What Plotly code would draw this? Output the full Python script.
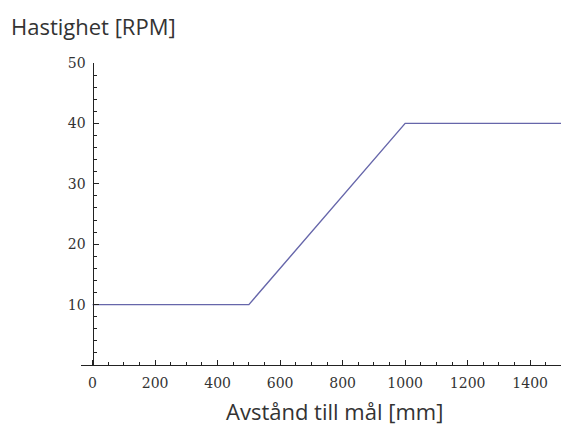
import plotly.graph_objects as go

# Data
distance_mm = [0, 500, 1000, 1500]
speed_rpm = [10, 10, 40, 40]
x_tick_vals = [0, 200, 400, 600, 800, 1000, 1200, 1400]
y_tick_vals = [10, 20, 30, 40, 50]
x_title = "Avstånd till mål [mm]"
y_title = "Hastighet [RPM]"

OFF = 8  # default body margin of the page
W, H = 569 - OFF, 430 - OFF
L, R, T, B = 81 - OFF, 6, 63 - OFF, 65
pw, ph = W - L - R, H - T - B
xmin, xmax = -37, 1505
ymin, ymax = 0, 50

def px_x(px):
    return (px - OFF - L) / pw

def px_y(py):
    return 1 - (py - OFF - T) / ph

axis_color = "#222222"
tick_font = dict(family="DejaVu Serif, Liberation Serif, serif", size=14, color="#333333")
title_font = dict(family="Open Sans", size=22, color="#333333")

fig = go.Figure()
fig.add_trace(go.Scatter(
    x=distance_mm, y=speed_rpm, mode="lines",
    line=dict(color="#6666aa", width=1.4),
    showlegend=False, hoverinfo="skip",
))

fig.update_layout(
    width=W, height=H,
    margin=dict(l=L, r=R, t=T, b=B),
    paper_bgcolor="white", plot_bgcolor="white",
    xaxis=dict(
        range=[xmin, xmax], showgrid=False, zeroline=False,
        showline=True, linecolor=axis_color, linewidth=1.2,
        tickvals=x_tick_vals, ticks="inside", ticklen=5, tickwidth=1.2,
        tickcolor=axis_color, tickfont=tick_font, ticklabelstandoff=5,
        minor=dict(ticks="inside", ticklen=3, tickwidth=1, tickcolor=axis_color,
                   tick0=0, dtick=50, showgrid=False),
        anchor="y",
    ),
    yaxis=dict(
        range=[ymin, ymax], showgrid=False, zeroline=False,
        showline=True, linecolor=axis_color, linewidth=1.2,
        tickvals=y_tick_vals, ticks="inside", ticklen=5, tickwidth=1.2,
        tickcolor=axis_color, tickfont=tick_font, ticklabelstandoff=4,
        minor=dict(ticks="inside", ticklen=3, tickwidth=1, tickcolor=axis_color,
                   tick0=0, dtick=2, showgrid=False),
        anchor="free", position=(0 - xmin) / (xmax - xmin),
    ),
    annotations=[
        dict(text=y_title, xref="paper", yref="paper",
             x=px_x(9), y=px_y(9), xanchor="left", yanchor="top",
             showarrow=False, font=title_font),
        dict(text=x_title, xref="paper", yref="paper",
             x=px_x(334), y=px_y(428), xanchor="center", yanchor="bottom",
             showarrow=False, font=title_font),
    ],
)

fig.write_html("out.html")
